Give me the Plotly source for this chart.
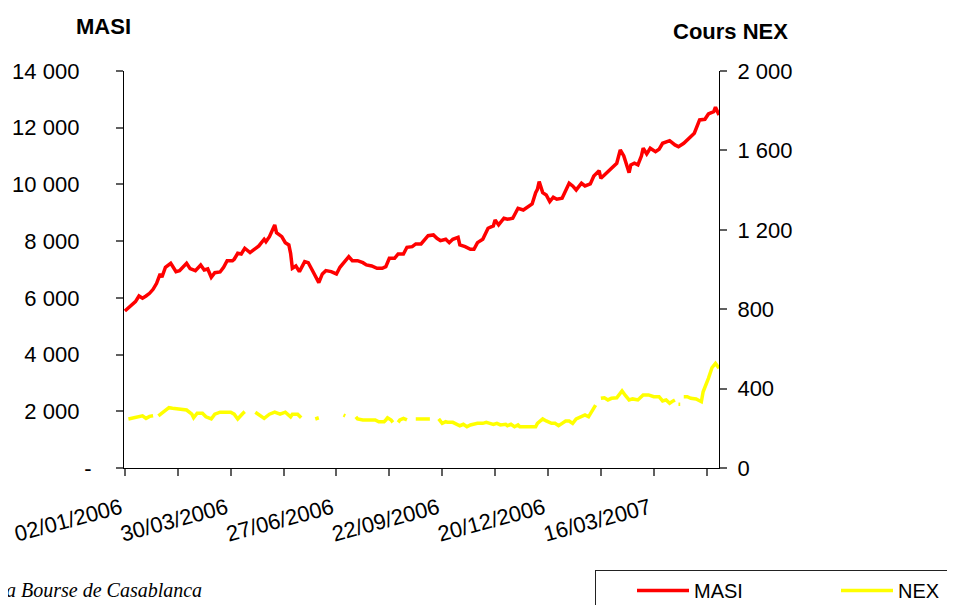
import plotly.graph_objects as go

# trading-day index (0 = 02/01/2006) and MASI closing values
masi_day = [0, 3, 6, 8, 10, 12, 14, 16, 18, 20, 21, 23, 26, 27, 29, 31, 35, 37, 40, 43,
            45, 47, 49, 51, 54, 56, 58, 61, 62, 64, 66, 68, 71, 73, 76, 79, 80, 82, 85, 86,
            89, 91, 93, 94, 95, 97, 99, 102, 104, 106, 108, 110, 112, 114, 117, 120, 122, 125, 127, 129,
            132, 135, 137, 140, 143, 146, 148, 150, 153, 155, 158, 160, 163, 165, 168, 172, 175, 177, 179, 182,
            184, 186, 189, 190, 193, 196, 198, 200, 203, 206, 209, 210, 212, 215, 217, 220, 223, 226, 228, 231,
            233, 234, 235, 237, 239, 241, 243, 245, 248, 250, 252, 254, 256, 259, 261, 264, 266, 269, 270, 272,
            274, 277, 279, 281, 283, 286, 287, 289, 291, 293, 294, 296, 298, 301, 303, 305, 309, 312, 314, 317,
            320, 323, 326, 329, 331, 334, 335, 337]
masi = [5537, 5714, 5866, 6066, 5985, 6066, 6161, 6302, 6514, 6843, 6726, 7079, 7220, 7125, 6925, 6960, 7220, 7030, 6960, 7160,
        6983, 7019, 6726, 6889, 6913, 7079, 7311, 7311, 7361, 7572, 7548, 7749, 7596, 7689, 7830, 8066, 7982, 8159, 8571, 8300,
        8159, 7947, 7866, 7572, 7043, 7125, 6925, 7276, 7241, 7007, 6772, 6536, 6843, 6960, 6925, 6843, 7079, 7311, 7452, 7311,
        7311, 7241, 7160, 7125, 7043, 7043, 7100, 7396, 7396, 7548, 7548, 7784, 7807, 7901, 7901, 8193, 8218, 8101, 8017, 8066,
        7947, 8066, 8136, 7866, 7807, 7713, 7713, 7947, 8066, 8454, 8536, 8747, 8571, 8807, 8771, 8807, 9160, 9100, 9195, 9311,
        9710, 9829, 10098, 9710, 9629, 9393, 9548, 9477, 9512, 9805, 10041, 9946, 9805, 10041, 9946, 10017, 10299, 10487, 10217, 10334,
        10452, 10605, 10746, 11216, 11005, 10417, 10687, 10746, 10687, 11005, 11276, 11075, 11276, 11157, 11240, 11452, 11544, 11393, 11333, 11452,
        11628, 11804, 12274, 12298, 12486, 12568, 12721, 12451]

# NEX share price (right axis); None = no quotation that day
nex_day = [2, 5, 8, 10, 12, 14, 16, 17, 19, 21,
           23, 25, 27, 30, 32, 35, 38, 39, 41, 44,
           46, 49, 51, 54, 57, 60, 62, 64, 67, 68,
           71, 74, 77, 79, 82, 85, 88, 91, 94, 95,
           98, 100, 103, 108, 110, 115, 124, 125, 128, 131,
           132, 135, 139, 142, 144, 147, 148, 149, 151, 152,
           154, 155, 156, 158, 160, 162, 165, 167, 170, 173,
           175, 178, 179, 180, 182, 183, 186, 188, 190, 192,
           194, 196, 198, 200, 203, 205, 207, 209, 211, 213,
           216, 217, 219, 221, 223, 224, 228, 233, 234, 237,
           239, 242, 244, 246, 248, 250, 252, 254, 256, 259,
           261, 263, 265, 267, 268, 270, 272, 274, 276, 279,
           281, 282, 284, 286, 288, 291, 292, 294, 297, 300,
           303, 305, 307, 309, 311, 312, 313, 314, 315, 316,
           317, 319, 321, 324, 327, 328, 331, 333, 335, 337]
nex = [247, 253, 258, 263, 250, 260, 263, None, 263, 276,
       292, 304, 301, 297, 297, 292, 271, 253, 276, 276,
       258, 247, 271, 281, 281, 281, 271, 247, 276, 284,
       None, 281, 263, 250, 271, 281, 271, 281, 258, 271,
       271, 253, None, 247, 253, None, 267, 263, None, 258,
       247, 242, 242, 242, 233, 233, 242, 253, 242, 230,
       None, 230, 242, 250, 242, None, 247, 247, 247, 247,
       None, 247, 237, 225, 233, 230, 230, 220, 213, 220,
       208, 217, 220, 225, 225, 230, 225, 220, 225, 217,
       220, 213, 220, 208, 217, 208, 208, 208, 225, 247,
       237, 225, 225, 213, 225, 237, 237, 225, 247, 258,
       267, 258, 284, 317, None, 351, 354, 343, 351, 354,
       376, 388, 364, 343, 348, 343, 351, 368, 368, 359,
       359, 338, 343, 326, 338, 343, None, 321, 321, None,
       359, 359, 351, 348, 334, 384, 452, 505, 527, 502]

x_ticks = list(range(0, 331, 30))
x_labels = ["02/01/2006", "", "30/03/2006", "", "27/06/2006", "", "22/09/2006", "",
            "20/12/2006", "", "16/03/2007", ""]
masi_ticks = [0, 2000, 4000, 6000, 8000, 10000, 12000, 14000]
masi_labels = ["-", "2 000", "4 000", "6 000", "8 000", "10 000", "12 000", "14 000"]
nex_ticks = [0, 400, 800, 1200, 1600, 2000]
nex_labels = ["0", "400", "800", "1 200", "1 600", "2 000"]

FONT = "Liberation Sans, Arial, sans-serif"
TICK_C = "#606060"
x_range = [-0.5, 337]

fig = go.Figure()
fig.add_trace(go.Scatter(x=masi_day, y=masi, name="MASI", mode="lines",
                         line=dict(color="#ff0000", width=3.5)))
fig.add_trace(go.Scatter(x=nex_day, y=nex, name="NEX", mode="lines", yaxis="y2",
                         connectgaps=False, line=dict(color="#ffff00", width=3.5)))

axis_common = dict(showgrid=False, zeroline=False, ticklen=7, tickwidth=1.5, tickcolor=TICK_C)

# accounting-style labels: the zero dash sits further right than the numbers
masi_text = [t if t == "-" else t + "\u00a0\u00a0" for t in masi_labels]
date_text = [t + "\u2009" if t else t for t in x_labels]

fig.update_layout(
    width=955, height=605,
    margin=dict(l=116, r=244, t=63, b=145, autoexpand=False),
    paper_bgcolor="white", plot_bgcolor="white",
    font=dict(family=FONT, size=22, color="black"),
    showlegend=True,
    legend=dict(orientation="h", x=0.7916, y=-0.257, xanchor="left", yanchor="top",
                entrywidth=101, entrywidthmode="pixels", itemwidth=52, indentation=36,
                bordercolor="#222", borderwidth=1, font=dict(size=20)),
    xaxis=dict(range=x_range, tickmode="array", tickvals=x_ticks, ticktext=date_text,
               ticks="outside", tickangle=-15, ticklabelstandoff=10,
               showline=True, linecolor="black", linewidth=1, **axis_common),
    xaxis2=dict(range=x_range, overlaying="x", anchor="y", side="bottom",
                tickmode="array", tickvals=x_ticks, ticks="inside",
                showticklabels=False, showline=False, **axis_common),
    yaxis=dict(range=[0, 14000], tickmode="array", tickvals=masi_ticks, ticktext=masi_text,
               ticks="outside", ticklabelstandoff=20,
               showline=True, linecolor="black", linewidth=1, **axis_common),
    yaxis2=dict(range=[0, 2000], overlaying="y", side="right", anchor="x",
                tickmode="array", tickvals=nex_ticks, ticktext=nex_labels,
                ticks="outside", ticklabelstandoff=6,
                showline=True, linecolor="black", linewidth=1, **axis_common),
    yaxis3=dict(range=[0, 14000], overlaying="y", side="left", anchor="x",
                tickmode="array", tickvals=masi_ticks, ticks="inside",
                showticklabels=False, showline=False, **axis_common),
    yaxis4=dict(range=[0, 2000], overlaying="y", side="right", anchor="x",
                tickmode="array", tickvals=nex_ticks, ticks="inside",
                showticklabels=False, showline=False, **axis_common),
)

fig.add_annotation(text="<b>MASI</b>", xref="paper", yref="paper", x=-0.034, y=1.113,
                   xanchor="center", yanchor="middle", showarrow=False, font=dict(size=22))
fig.add_annotation(text="<b>Cours NEX</b>", xref="paper", yref="paper", x=1.0185, y=1.1,
                   xanchor="center", yanchor="middle", showarrow=False, font=dict(size=22))
fig.add_annotation(text="<i>Source : la Bourse de Casablanca</i>", xref="paper", yref="paper",
                   x=0.1345, y=-0.307, xanchor="right", yanchor="middle", showarrow=False,
                   font=dict(family="Liberation Serif, Times New Roman, serif", size=20))

fig.write_html("out.html")
